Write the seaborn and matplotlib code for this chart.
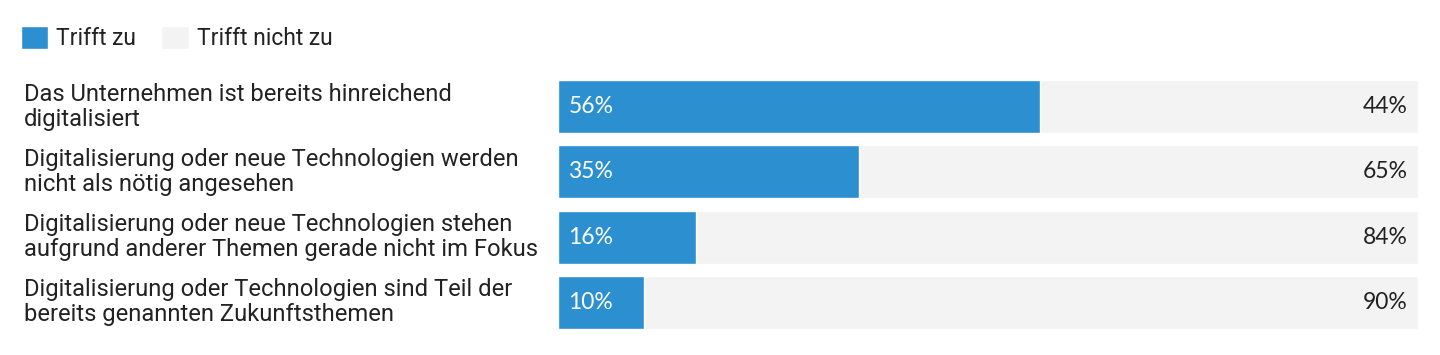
import pandas as pd
import seaborn as sns
import matplotlib.pyplot as plt
from matplotlib.patches import Patch
from matplotlib.transforms import blended_transform_factory

categories = [
    "Das Unternehmen ist bereits hinreichend\ndigitalisiert",
    "Digitalisierung oder neue Technologien werden\nnicht als nötig angesehen",
    "Digitalisierung oder neue Technologien stehen\naufgrund anderer Themen gerade nicht im Fokus",
    "Digitalisierung oder Technologien sind Teil der\nbereits genannten Zukunftsthemen",
]
trifft_zu = [56, 35, 16, 10]
trifft_nicht_zu = [44, 65, 84, 90]

BLUE = "#2B8FD0"
GREY = "#F3F3F4"
TEXT = "#222222"

df = pd.DataFrame({"cat": categories, "yes": trifft_zu, "no": trifft_nicht_zu})
df["total"] = df["yes"] + df["no"]

sns.set_style("white")
plt.rcParams["font.family"] = ["Roboto", "DejaVu Sans"]

fig = plt.figure(figsize=(14.4, 3.55), dpi=100)
ax = fig.add_axes([0.3875, 0.0563, 0.5972, 0.7352])

sns.barplot(data=df, y="cat", x="total", color=GREY, width=0.81,
            saturation=1, ax=ax, orient="h")
sns.barplot(data=df, y="cat", x="yes", color=BLUE, width=0.81,
            saturation=1, ax=ax, orient="h")

ax.set_xlim(0, 100)
ax.set_ylim(3.5, -0.5)
ax.set_xlabel("")
ax.set_ylabel("")
ax.set_xticks([])
ax.set_yticks([])
sns.despine(ax=ax, left=True, bottom=True)

trans = blended_transform_factory(fig.transFigure, ax.transData)
for i, row in df.iterrows():
    ax.text(1.2, i, f"{row['yes']}%", va="center", ha="left",
            color="white", fontsize=16.5, family=["Lato", "DejaVu Sans"])
    ax.text(98.8, i, f"{row['no']}%", va="center", ha="right",
            color=TEXT, fontsize=16.5, family=["Lato", "DejaVu Sans"])
    ax.text(24 / 1440, i, row["cat"], va="center", ha="left", color=TEXT,
            fontsize=17.1, linespacing=1.12, transform=trans)

handles = [Patch(facecolor=BLUE, label="Trifft zu"),
           Patch(facecolor=GREY, label="Trifft nicht zu")]
fig.legend(handles=handles, loc="upper left", bbox_to_anchor=(0.0, 0.985),
           ncol=2, frameon=False, fontsize=16.5, handlelength=1.2,
           handleheight=1.2, handletextpad=0.35, columnspacing=1.1,
           labelcolor=TEXT)

fig.savefig("out.png", dpi=100, facecolor="white")
